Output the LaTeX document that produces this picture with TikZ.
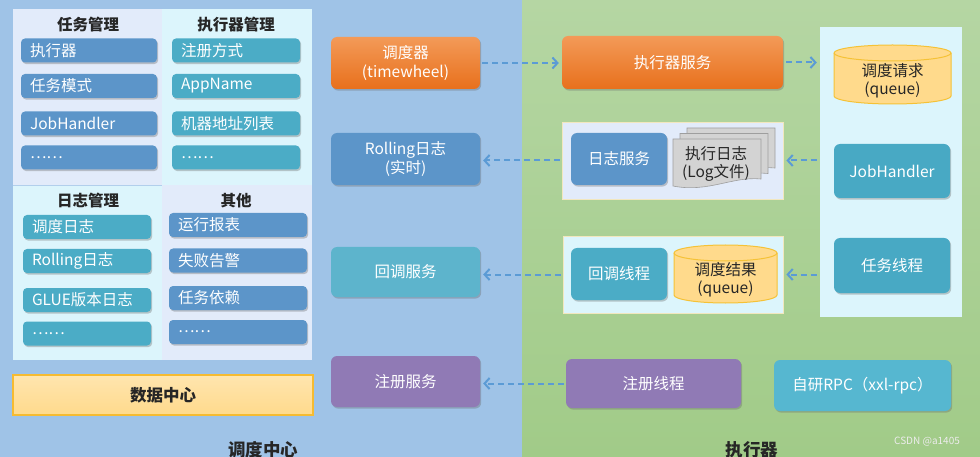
\documentclass[tikz,border=0pt]{standalone}
\usepackage{fontspec}
\setmainfont{Noto Sans CJK SC}
\usetikzlibrary{arrows.meta,shadows}
\definecolor{bgblue}{HTML}{9FC3E7}
\definecolor{bggreenT}{HTML}{B5D6A3}
\definecolor{bggreenB}{HTML}{A1CB88}
\definecolor{lav}{HTML}{E2EBFA}
\definecolor{cyanl}{HTML}{DCF5FC}
\definecolor{steel}{HTML}{5C95C9}
\definecolor{teal}{HTML}{4BACC6}
\definecolor{tealD}{HTML}{48A9C4}
\definecolor{tealL}{HTML}{56B7D0}
\definecolor{purp}{HTML}{907AB5}
\definecolor{orT}{HTML}{F39A58}
\definecolor{orB}{HTML}{E8701C}
\definecolor{cylF}{HTML}{FFDA8C}
\definecolor{cylE}{HTML}{F5C236}
\definecolor{arrc}{HTML}{5B9BD5}
\definecolor{pageF}{HTML}{D3D3D3}
\definecolor{pageE}{HTML}{9E9E9E}
\definecolor{panE}{HTML}{F2E7BE}
\tikzset{
  shad/.style={drop shadow={shadow xshift=1.2pt,shadow yshift=-1.6pt,opacity=0.35,fill=black!60}},
  item/.style={rounded corners=4pt, fill=#1, text=white, shad, font=\fontsize{15.5}{17}\selectfont, inner xsep=9pt, inner ysep=0pt, minimum height=24pt, align=left},
  bigbox/.style={rounded corners=6pt, fill=#1, text=white, shad, font=\fontsize{15.5}{19}\selectfont, inner sep=0pt, align=center},
  orbox/.style={rounded corners=6pt, top color=orT, bottom color=orB, text=white, shad, font=\fontsize{15.5}{19}\selectfont, inner sep=0pt, align=center},
  hdr/.style={font=\fontsize{15.5}{17}\selectfont\bfseries, text=black!85},
  panel/.style={fill=#1, inner sep=0pt},
  arr/.style={draw=arrc, line width=2pt, dash pattern=on 6pt off 4pt, -{Straight Barb[length=5pt,width=11pt,line width=2pt]}},
  cylfill/.style={fill=cylF, draw=cylE, line width=1pt},
  dtext/.style={font=\fontsize{15.5}{18}\selectfont, text=black!85, align=center, inner sep=0pt},
  page/.style={fill=pageF, draw=pageE, line width=0.6pt},
}
\begin{document}
\begin{tikzpicture}[x=1pt,y=-1pt]
\useasboundingbox (0,0) rectangle (980,457);
% backgrounds
\fill[bgblue] (0,0) rectangle (522,457);
\shade[top color=bggreenT, bottom color=bggreenB] (522,0) rectangle (980,457);
% left quadrants
\fill[lav] (13,9) rectangle (162,185);
\fill[cyanl] (162,9) rectangle (312,185);
\fill[cyanl] (13,185) rectangle (162,360);
\fill[lav] (162,185) rectangle (312,360);
\draw[bgblue!80, line width=0.8pt] (13,185) -- (162,185);
% headers
\node[hdr] (h1) at (88,25) {任务管理};
\node[hdr] (h2) at (236,25) {执行器管理};
\node[hdr] (h3) at (88,201) {日志管理};
\node[hdr] (h4) at (236,201) {其他};
% top-left items
\node[item=steel, text width=118pt] (a1) at (89,50.5) {执行器};
\node[item=steel, text width=118pt] (a2) at (89,86) {任务模式};
\node[item=steel, text width=118pt] (a3) at (89,123.5) {JobHandler};
\node[item=steel, text width=118pt] (a4) at (89,157.5) {……};
% top-right items
\node[item=teal, text width=110pt] (b1) at (236,50.5) {注册方式};
\node[item=teal, text width=110pt] (b2) at (236,86) {AppName};
\node[item=teal, text width=110pt] (b3) at (236,123.5) {机器地址列表};
\node[item=teal, text width=110pt] (b4) at (236,157.5) {……};
% bottom-left items
\node[item=teal, text width=110pt] (c1) at (87,227) {调度日志};
\node[item=teal, text width=110pt] (c2) at (87,261) {Rolling日志};
\node[item=teal, text width=110pt] (c3) at (87,300) {GLUE版本日志};
\node[item=teal, text width=110pt] (c4) at (87,333.5) {……};
% bottom-right items
\node[item=steel, text width=120pt] (d1) at (238,225) {运行报表};
\node[item=steel, text width=120pt] (d2) at (238,260.5) {失败告警};
\node[item=steel, text width=120pt] (d3) at (238,298) {任务依赖};
\node[item=steel, text width=120pt] (d4) at (238,332) {……};
% data center
\node[top color=cylF!70!white, bottom color=cylF, draw=cylE!90!orange, line width=1.2pt, minimum width=300pt, minimum height=40pt, inner sep=0pt, font=\fontsize{16.5}{18}\selectfont\bfseries, text=black!85] (dc) at (163,395) {数据中心};
% middle column
\node[orbox, minimum width=149pt, minimum height=52pt] (sched) at (405.5,63) {调度器\\(timewheel)};
\node[bigbox=steel, minimum width=149pt, minimum height=52pt] (roll) at (405.5,159) {Rolling日志\\(实时)};
\node[bigbox=teal!90!white, minimum width=149pt, minimum height=50pt] (cbs) at (405.5,272) {回调服务};
\node[bigbox=purp, minimum width=149pt, minimum height=51pt] (regs) at (405.5,381.5) {注册服务};
% right side panels
\node[panel=cyanl, minimum width=142pt, minimum height=290pt] (rpan) at (891,172) {};
\node[panel=lav, draw=panE, line width=0.8pt, minimum width=221pt, minimum height=77pt] (logp) at (672.5,160.5) {};
\node[panel=cyanl, draw=panE, line width=0.8pt, minimum width=220pt, minimum height=77pt] (cbp) at (673,274.5) {};
% executor boxes
\node[orbox, minimum width=221pt, minimum height=53pt] (exs) at (672.5,62.5) {执行器服务};
\node[bigbox=steel, minimum width=96pt, minimum height=52pt] (logs) at (619,159) {日志服务};
\node[bigbox=teal, minimum width=96pt, minimum height=52pt] (cbt) at (619,274) {回调线程};
\node[bigbox=tealD, minimum width=116pt, minimum height=54pt] (jh) at (892,171) {JobHandler};
\node[bigbox=tealD, minimum width=116pt, minimum height=55pt] (tt) at (892,265.5) {任务线程};
\node[bigbox=purp, minimum width=175pt, minimum height=49pt] (regt) at (653.5,383.5) {注册线程};
\node[bigbox=tealL, minimum width=177pt, minimum height=51pt] (rpc) at (862.5,385.5) {自研RPC（xxl-rpc）};
% document stack
\foreach \dx/\dy in {14/-11,7/-5.5,0/0}{
  \begin{scope}[shift={(673+\dx,139+\dy)}]
    \path[page] (0,0) -- (88,0) -- (88,40) .. controls (60,37) and (35,54) .. (0,47) -- cycle;
  \end{scope}
}
\node[dtext] (logf) at (716,164) {执行日志\\(Log文件)};
% cylinder 1
\path[cylfill] (834,53) -- (834,96) arc[start angle=180,end angle=360,x radius=58.5pt,y radius=8pt] -- (951,53) arc[start angle=0,end angle=180,x radius=58.5pt,y radius=8pt] -- cycle;
\draw[cylE, line width=1pt] (834,53) arc[start angle=180,end angle=360,x radius=58.5pt,y radius=8pt];
\node[dtext] (req) at (892.5,81) {调度请求\\(queue)};
% cylinder 2
\path[cylfill] (674,253) -- (674,295) arc[start angle=180,end angle=360,x radius=51.5pt,y radius=8pt] -- (777,253) arc[start angle=0,end angle=180,x radius=51.5pt,y radius=8pt] -- cycle;
\draw[cylE, line width=1pt] (674,253) arc[start angle=180,end angle=360,x radius=51.5pt,y radius=8pt];
\node[dtext] (res) at (725.5,280) {调度结果\\(queue)};
% arrows
\draw[arr, shorten <=2pt, shorten >=3pt] (sched.east) -- (sched.east -| exs.west);
\draw[arr, shorten <=3pt, shorten >=3pt] (exs.east) -- (exs.east -| rpan.west);
\draw[arr, shorten <=3pt, shorten >=3pt] (rpan.west |- logp.east) -- (logp.east);
\draw[arr, shorten <=2pt, shorten >=3pt] (logp.west) -- (logp.west -| roll.east);
\draw[arr, shorten <=3pt, shorten >=3pt] (rpan.west |- cbp.east) -- (cbp.east);
\draw[arr, shorten <=2pt, shorten >=3pt] (cbp.west) -- (cbp.west -| cbs.east);
\draw[arr, shorten <=2pt, shorten >=3pt] (regt.west) -- (regt.west -| regs.east);
% bottom labels
\node[font=\fontsize{17.5}{19}\selectfont\bfseries, text=black!85] (lc) at (263,450) {调度中心};
\node[font=\fontsize{17.5}{19}\selectfont\bfseries, text=black!85] (rc) at (752,450) {执行器};
\node[font=\fontsize{10}{12}\selectfont, text=white!85!gray] (wm) at (927,442) {CSDN @a1405};
\end{tikzpicture}
\end{document}
